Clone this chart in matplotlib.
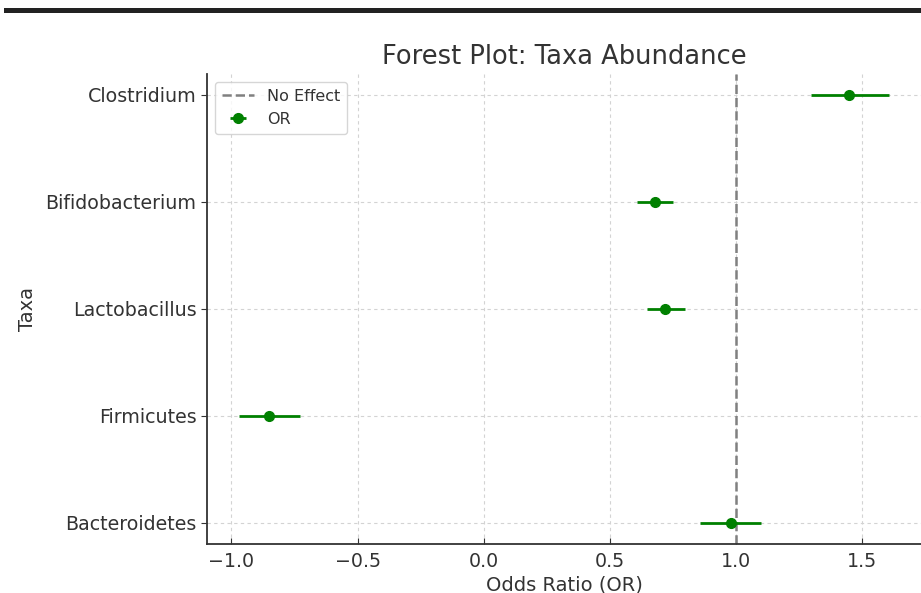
import matplotlib
matplotlib.use("Agg")
import matplotlib.pyplot as plt
from matplotlib.patches import Rectangle

taxa = ["Bacteroidetes", "Firmicutes", "Lactobacillus", "Bifidobacterium", "Clostridium"]
odds_ratio = [0.98, -0.85, 0.72, 0.68, 1.45]
ci_lower = [0.86, -0.97, 0.65, 0.61, 1.30]
ci_upper = [1.10, -0.73, 0.80, 0.75, 1.61]

plt.rcParams['font.family'] = ['DejaVu Sans']
txt = '#333333'

fig = plt.figure(figsize=(9.21, 5.93), dpi=100)
fig.add_artist(Rectangle((0.004, 1 - 13/593), 0.996, 5/593, transform=fig.transFigure,
                         color='#222222', lw=0))
ax = fig.add_axes([207/921, 49/593, 714/921, 470.4/593])

ypos = list(range(len(taxa)))
xerr = [[o - l for o, l in zip(odds_ratio, ci_lower)],
        [u - o for o, u in zip(odds_ratio, ci_upper)]]
ax.axvline(1.0, color='gray', linestyle='--', lw=1.8, label='No Effect', zorder=2)
ax.errorbar(odds_ratio, ypos, xerr=xerr, fmt='o', color='green', ecolor='green',
            elinewidth=2, markersize=7, capsize=0, label='OR', zorder=3)

ax.set_yticks(ypos)
ax.set_yticklabels(taxa)
ax.set_xticks([-1.0, -0.5, 0.0, 0.5, 1.0, 1.5])
ax.set_xlim(-1.097, 1.735)
ax.set_ylim(-0.2, 4.2)
ax.grid(True, linestyle=(0, (3, 3)), color='#d3d3d3', lw=0.8)
ax.set_axisbelow(True)

for s in ['top', 'right']:
    ax.spines[s].set_visible(False)
for s in ['left', 'bottom']:
    ax.spines[s].set_color('#333333')
    ax.spines[s].set_linewidth(1.3)

ax.tick_params(axis='x', direction='in', length=4, labelsize=13.7, colors=txt, pad=6)
ax.tick_params(axis='y', direction='out', length=4, labelsize=13.7, colors=txt)
ax.set_xlabel('Odds Ratio (OR)', fontsize=14, color=txt, labelpad=3)
ax.set_ylabel('Taxa', fontsize=14, color=txt, labelpad=6)
ax.set_title('Forest Plot: Taxa Abundance', fontsize=18.5, color=txt, pad=7)

leg = ax.legend(loc='upper left', fontsize=11.5, frameon=True, borderpad=0.45)
for t in leg.get_texts():
    t.set_color(txt)

fig.savefig('out.png', dpi=100)
